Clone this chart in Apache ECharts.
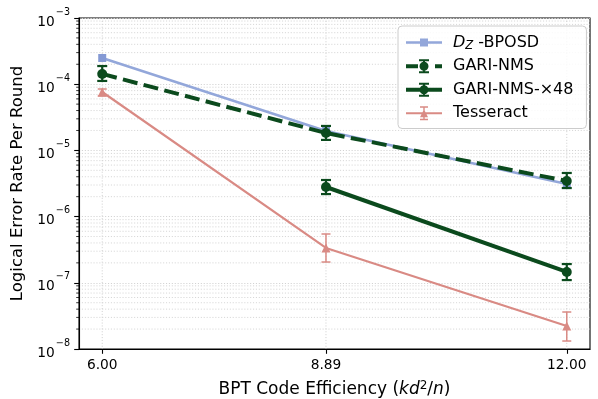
<!DOCTYPE html>
<html>
<head>
<meta charset="utf-8">
<script src="https://cdn.jsdelivr.net/npm/echarts@6/dist/echarts.min.js"></script>
<style>
  html, body { margin: 0; padding: 0; background: #fff; }
  #chart { width: 598px; height: 399px; }
</style>
</head>
<body>
<div id="chart"></div>
<script>
// x positions (code efficiency kd^2/n)
const xTicks = [6.00, 8.89, 12.00];

// D_Z-BPOSD, no error bars
const bposdX = [6.00, 8.89, 12.00];
const bposdY = [2.49e-4, 1.96e-5, 3.1e-6];

// GARI-NMS: value, low, high
const nmsX = [6.00, 8.89, 12.00];
const nmsY = [1.43e-4, 1.83e-5, 3.45e-6];
const nmsLo = [1.12e-4, 1.44e-5, 2.70e-6];
const nmsHi = [1.88e-4, 2.34e-5, 4.56e-6];

// GARI-NMS-x48
const nms48X = [8.89, 12.00];
const nms48Y = [2.80e-6, 1.46e-7];
const nms48Lo = [2.19e-6, 1.10e-7];
const nms48Hi = [3.57e-6, 1.92e-7];

// Tesseract
const tessX = [6.00, 8.89, 12.00];
const tessY = [7.62e-5, 3.36e-7, 2.22e-8];
const tessLo = [6.64e-5, 2.06e-7, 1.32e-8];
const tessHi = [8.46e-5, 5.46e-7, 3.62e-8];

// minor log ticks
const decades = [1e-8, 1e-7, 1e-6, 1e-5, 1e-4];
const minorMult = [2, 3, 4, 5, 6, 7, 8, 9];

const X_MIN = 5.7, X_MAX = 12.3;
const BLUE = '#93a7da', GREEN = '#0b4a1d', RED = '#d98a84';
const GRIDC = '#d2d2d2';
const FONT = 'DejaVu Sans';

const pairs = (xs, ys) => xs.map((x, i) => [x, ys[i]]);
const bars = (xs, lo, hi) => xs.map((x, i) => [x, lo[i], hi[i]]);

const minorVals = [];
decades.forEach(d => minorMult.forEach(m => minorVals.push([X_MIN, d * m])));

function errorBar(color, lw, cap) {
  return function (params, api) {
    const x = api.value(0);
    const p1 = api.coord([x, api.value(1)]);
    const p2 = api.coord([x, api.value(2)]);
    const st = { stroke: color, lineWidth: lw };
    return {
      type: 'group',
      children: [
        { type: 'line', shape: { x1: p1[0], y1: p1[1], x2: p2[0], y2: p2[1] }, style: st },
        { type: 'line', shape: { x1: p1[0] - cap, y1: p1[1], x2: p1[0] + cap, y2: p1[1] }, style: st },
        { type: 'line', shape: { x1: p2[0] - cap, y1: p2[1], x2: p2[0] + cap, y2: p2[1] }, style: st }
      ]
    };
  };
}

// legend icons (box 36 x 14)
const corners = 'M0 0 h0.01 v0.01 Z M36 14 h-0.01 v-0.01 Z ';
const circle = 'M13.5 7 A4.5 4.5 0 1 1 22.5 7 A4.5 4.5 0 1 1 13.5 7 Z ';
const ebarThick = 'M17 0 H19 V14 H17 Z M13 0 H23 V2 H13 Z M13 12 H23 V14 H13 Z ';
const ebarThin = 'M17.3 0 H18.7 V14 H17.3 Z M14 0 H22 V1.4 H14 Z M14 12.6 H22 V14 H14 Z ';
const iconBposd = 'path://' + corners + 'M0 5.8 H36 V8.2 H0 Z M14 3 H22 V11 H14 Z';
const iconNms = 'path://' + corners + 'M0 5 H12 V9 H0 Z M29 5 H36 V9 H29 Z ' + circle + ebarThick;
const iconNms48 = 'path://' + corners + 'M0 5 H36 V9 H0 Z ' + circle + ebarThick;
const iconTess = 'path://' + corners + 'M0 6 H36 V8 H0 Z M14 11 L18 3 L22 11 Z ' + ebarThin;

const chart = echarts.init(document.getElementById('chart'), null, { renderer: 'canvas' });

chart.setOption({
  animation: false,
  textStyle: { fontFamily: FONT },
  grid: {
    left: 79, right: 8, top: 18, bottom: 50,
    outerBoundsMode: 'none', containLabel: false,
    show: true, borderColor: '#000', borderWidth: 1.1, backgroundColor: 'transparent'
  },
  legend: {
    left: 398, top: 26,
    orient: 'vertical',
    itemWidth: 36, itemHeight: 14, itemGap: 5,
    padding: [7, 13, 6, 8],
    backgroundColor: 'rgba(255,255,255,0.85)',
    borderColor: '#cccccc', borderWidth: 1, borderRadius: 4,
    selectedMode: false,
    textStyle: {
      fontFamily: FONT, fontSize: 16, color: '#000', lineHeight: 18.5, padding: [0, 0, 0, 6],
      rich: {
        i: { fontFamily: FONT, fontStyle: 'italic', fontSize: 16, lineHeight: 18.5 },
        sub: { fontFamily: FONT, fontStyle: 'italic', fontSize: 11.5, lineHeight: 18.5, padding: [7, 0, 0, 0] }
      }
    },
    formatter: name => name === 'D_Z -BPOSD' ? '{i|D}{sub|Z} -BPOSD' : name,
    data: [
      { name: 'D_Z -BPOSD', icon: iconBposd, itemStyle: { color: BLUE } },
      { name: 'GARI-NMS', icon: iconNms, itemStyle: { color: GREEN } },
      { name: 'GARI-NMS-×48', icon: iconNms48, itemStyle: { color: GREEN } },
      { name: 'Tesseract', icon: iconTess, itemStyle: { color: RED } }
    ]
  },
  xAxis: {
    type: 'value', min: X_MIN, max: X_MAX,
    name: 'BPT Code Efficiency ({it|kd}{sup|2}/{it|n})',
    nameLocation: 'middle', nameGap: 31,
    nameTextStyle: {
      fontFamily: FONT, fontSize: 17, color: '#000',
      rich: {
        it: { fontFamily: FONT, fontStyle: 'italic', fontSize: 17, lineHeight: 20 },
        sup: { fontFamily: FONT, fontSize: 12, lineHeight: 20, padding: [0, 0, 9, 0] }
      }
    },
    axisLine: { show: true, lineStyle: { color: '#000', width: 1.1 } },
    axisTick: { show: true, length: 4.8, lineStyle: { color: '#000', width: 1.1 }, customValues: xTicks },
    axisLabel: { customValues: xTicks, margin: 9, fontFamily: FONT, fontSize: 13.75, color: '#000', formatter: v => v.toFixed(2) },
    splitLine: { show: false }
  },
  yAxis: {
    type: 'log', logBase: 10, min: 1e-8, max: 1e-3, splitNumber: 5,
    name: 'Logical Error Rate Per Round',
    nameLocation: 'middle', nameGap: 46, nameRotate: 90,
    nameTextStyle: { fontFamily: FONT, fontSize: 16.5, color: '#000' },
    axisLine: { show: true, lineStyle: { color: '#000', width: 1.1 } },
    axisTick: { show: true, length: 4.8, lineStyle: { color: '#000', width: 1.1 } },
    axisLabel: {
      margin: 9, color: '#000',
      formatter: v => '{b|10}{s|' + String(Math.round(Math.log10(v))).replace('-', '−') + '}',
      rich: {
        b: { fontFamily: FONT, fontSize: 13.75, lineHeight: 22, verticalAlign: 'bottom', color: '#000' },
        s: { fontFamily: FONT, fontSize: 9.6, lineHeight: 22, verticalAlign: 'top', color: '#000', padding: [0, 0, 0, 1] }
      }
    },
    splitLine: { show: true, lineStyle: { color: GRIDC, width: 1, type: [1.1, 1.8] } }
  },
  series: [
    {
      // minor log grid + ticks, vertical grid at x ticks
      type: 'custom', name: '_grid', silent: true, z: 0,
      encode: { x: 0, y: 1 },
      data: minorVals,
      renderItem: function (params, api) {
        const v = api.value(1);
        const a = api.coord([X_MIN, v]);
        const b = api.coord([X_MAX, v]);
        const children = [
          { type: 'line', shape: { x1: a[0], y1: a[1], x2: b[0], y2: b[1] }, style: { stroke: GRIDC, lineWidth: 0.9, lineDash: [1.1, 1.8] } },
          { type: 'line', shape: { x1: a[0] - 2.8, y1: a[1], x2: a[0], y2: a[1] }, style: { stroke: '#000', lineWidth: 0.8 } }
        ];
        if (params.dataIndex === 0) {
          xTicks.forEach(t => {
            const top = api.coord([t, 1e-3]);
            const bot = api.coord([t, 1e-8]);
            children.push({ type: 'line', shape: { x1: top[0], y1: top[1], x2: bot[0], y2: bot[1] }, style: { stroke: GRIDC, lineWidth: 1, lineDash: [1.1, 1.8] } });
          });
        }
        return { type: 'group', children: children };
      }
    },
    {
      name: 'D_Z -BPOSD', type: 'line', z: 3,
      data: pairs(bposdX, bposdY),
      symbol: 'rect', symbolSize: 8,
      itemStyle: { color: '#8499d4' },
      lineStyle: { color: BLUE, width: 2.5 }
    },
    {
      name: 'GARI-NMS', type: 'custom', z: 4,
      encode: { x: 0, y: [1, 2] },
      data: bars(nmsX, nmsLo, nmsHi),
      renderItem: errorBar(GREEN, 2.2, 5)
    },
    {
      name: 'GARI-NMS', type: 'line', z: 4,
      data: pairs(nmsX, nmsY),
      symbol: 'circle', symbolSize: 10,
      itemStyle: { color: GREEN },
      lineStyle: { color: GREEN, width: 4, type: [15, 6.4] }
    },
    {
      name: 'GARI-NMS-×48', type: 'custom', z: 5,
      encode: { x: 0, y: [1, 2] },
      data: bars(nms48X, nms48Lo, nms48Hi),
      renderItem: errorBar(GREEN, 2.2, 5)
    },
    {
      name: 'GARI-NMS-×48', type: 'line', z: 5,
      data: pairs(nms48X, nms48Y),
      symbol: 'circle', symbolSize: 10,
      itemStyle: { color: GREEN },
      lineStyle: { color: GREEN, width: 4 }
    },
    {
      name: 'Tesseract', type: 'custom', z: 6,
      encode: { x: 0, y: [1, 2] },
      data: bars(tessX, tessLo, tessHi),
      renderItem: errorBar(RED, 1.5, 4.5)
    },
    {
      name: 'Tesseract', type: 'line', z: 6,
      data: pairs(tessX, tessY),
      symbol: 'triangle', symbolSize: 9,
      itemStyle: { color: RED },
      lineStyle: { color: RED, width: 2.2 }
    }
  ]
});
</script>
</body>
</html>
